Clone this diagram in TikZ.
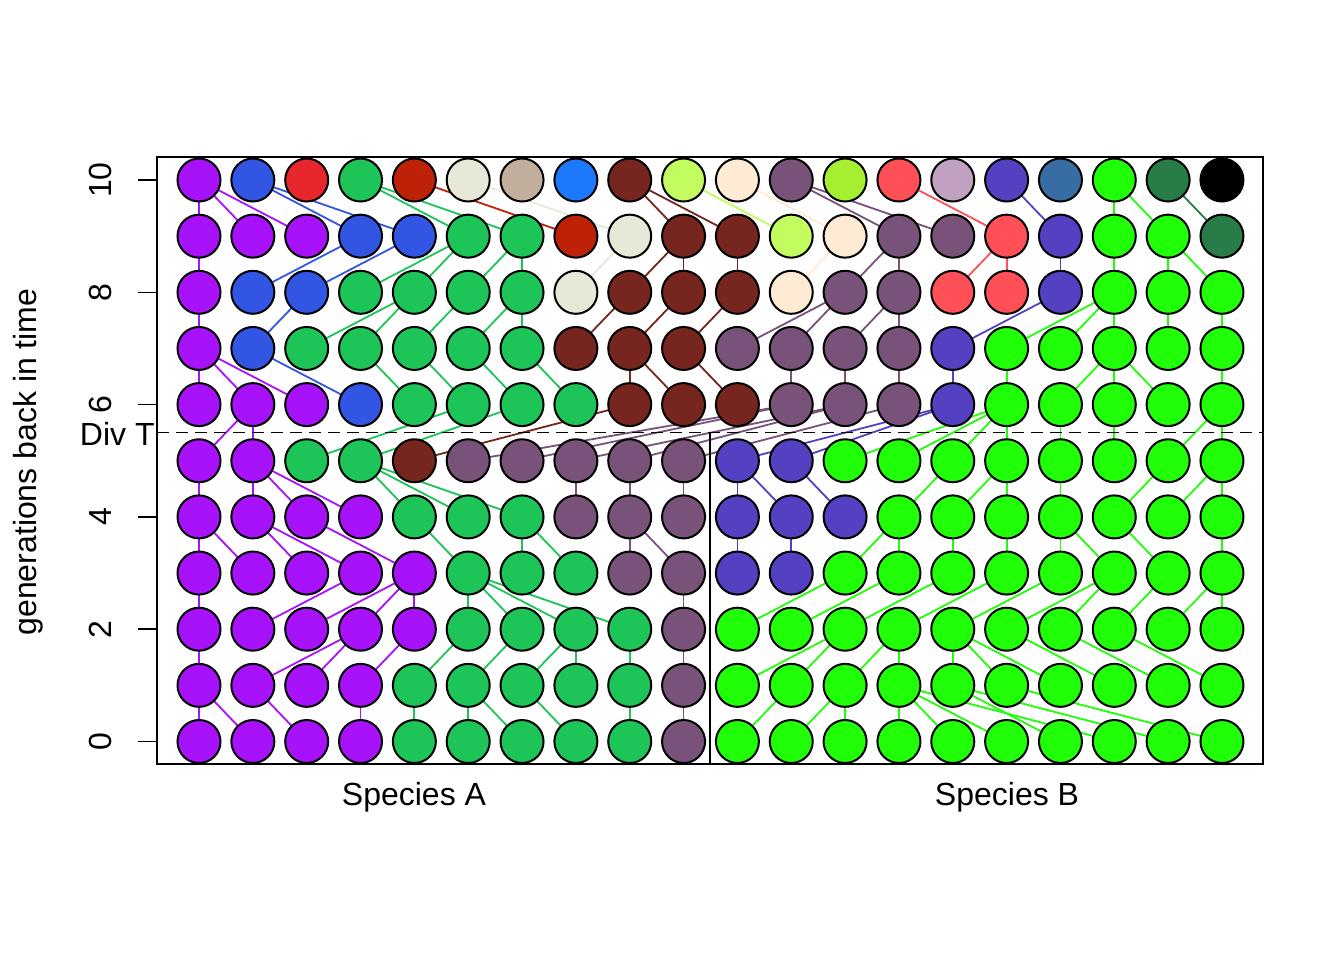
\documentclass[tikz,border=0pt]{standalone}
\usepackage{fontspec}
\setmainfont{Liberation Sans}
\pgfdeclarelayer{bg}
\pgfsetlayers{bg,main}
\definecolor{pal1}{HTML}{A712FB}
\definecolor{pal2}{HTML}{3355E3}
\definecolor{pal3}{HTML}{E8262E}
\definecolor{pal4}{HTML}{1DC457}
\definecolor{pal5}{HTML}{BE2206}
\definecolor{pal6}{HTML}{E8E8D8}
\definecolor{pal7}{HTML}{C2AE9C}
\definecolor{pal8}{HTML}{1C79FB}
\definecolor{pal9}{HTML}{76261E}
\definecolor{pal10}{HTML}{C3FC5E}
\definecolor{pal11}{HTML}{FFEAD4}
\definecolor{pal12}{HTML}{785278}
\definecolor{pal13}{HTML}{A6EE30}
\definecolor{pal14}{HTML}{FF5057}
\definecolor{pal15}{HTML}{C1A1C2}
\definecolor{pal16}{HTML}{5441C1}
\definecolor{pal17}{HTML}{386DA3}
\definecolor{pal18}{HTML}{20FF08}
\definecolor{pal19}{HTML}{277C48}
\definecolor{pal20}{HTML}{000000}
\begin{document}
\begin{tikzpicture}[x=0.5pt,y=-0.5pt,
  dot/.style={circle,draw=black,line width=1pt,minimum size=21.5pt,inner sep=0pt},
  lk/.style={line width=0.9pt},
  lab/.style={font=\fontsize{16}{19}\selectfont,inner sep=0pt},
  frame/.style={line width=0.8pt},
  divline/.style={line width=0.9pt,dash pattern=on 6pt off 3.5pt}]
\useasboundingbox (0,0) rectangle (1344,960);
% circles (individuals), colour = founding lineage
\foreach \g/\row in {
 10/{1,2,3,4,5,6,7,8,9,10,11,12,13,14,15,16,17,18,19,20},
 9/{1,1,1,2,2,4,4,5,6,9,9,10,11,12,12,14,16,18,18,19},
 8/{1,2,2,4,4,4,4,6,9,9,9,11,12,12,14,14,16,18,18,18},
 7/{1,2,4,4,4,4,4,9,9,9,12,12,12,12,16,18,18,18,18,18},
 6/{1,1,1,2,4,4,4,4,9,9,9,12,12,12,16,18,18,18,18,18},
 5/{1,1,4,4,9,12,12,12,12,12,16,16,18,18,18,18,18,18,18,18},
 4/{1,1,1,1,4,4,4,12,12,12,16,16,16,18,18,18,18,18,18,18},
 3/{1,1,1,1,1,4,4,4,12,12,16,16,18,18,18,18,18,18,18,18},
 2/{1,1,1,1,1,4,4,4,4,12,18,18,18,18,18,18,18,18,18,18},
 1/{1,1,1,1,4,4,4,4,4,12,18,18,18,18,18,18,18,18,18,18},
 0/{1,1,1,1,4,4,4,4,4,12,18,18,18,18,18,18,18,18,18,18}} {
  \foreach \c [count=\i] in \row {
    \expandafter\xdef\csname pc-\g-\i\endcsname{\c}
    \node[dot,fill=pal\c] (n-\g-\i) at ({199+(\i-1)*53.84},{741.5-\g*56.15}) {};
  }
}
% parent links (child in generation g -> parent in generation g+1)
\foreach \g/\row in {
 9/{1,1,1,2,2,4,4,5,6,9,9,10,11,12,12,14,16,18,18,19},
 8/{1,4,5,6,6,7,7,9,10,10,11,13,14,14,16,16,17,18,19,19},
 7/{1,3,5,5,6,7,7,9,10,11,13,13,14,14,17,18,18,18,19,20},
 6/{1,1,1,2,4,5,6,7,9,9,10,12,13,14,15,16,18,18,18,20},
 5/{2,2,6,7,9,12,12,13,13,14,15,15,16,16,16,16,17,18,20,20},
 4/{1,2,2,2,4,4,4,8,9,10,11,11,12,15,16,16,17,19,20,20},
 3/{1,1,2,2,3,5,7,7,9,9,11,12,14,14,15,16,17,17,18,20},
 2/{1,4,5,5,5,6,6,6,6,10,13,14,15,16,17,18,18,19,20,20},
 1/{1,4,4,5,6,7,8,8,9,10,13,13,14,14,15,15,15,16,17,18},
 0/{1,1,2,4,5,6,6,7,9,10,12,13,13,14,14,14,15,14,15,16}} {
  \pgfmathtruncatemacro{\gp}{\g+1}
  \foreach \p [count=\i] in \row {
    \edef\cc{\csname pc-\g-\i\endcsname}
    \begin{pgfonlayer}{bg}
      \draw[lk,draw=pal\cc] (n-\g-\i.center) -- (n-\gp-\p.center);
    \end{pgfonlayer}
  }
}
% frame, divergence line, species split
\draw[frame] (157,157) rectangle (1263,764);
\coordinate (dl) at (157,432.5);
\coordinate (dr) at (1263,432.5);
\draw[divline] (dl) -- (dr);
\coordinate (st) at (710,432.5);
\coordinate (sb) at (710,764);
\draw[frame] (st) -- (sb);
% y axis
\foreach \v in {0,2,4,6,8,10} {
  \coordinate (ta-\v) at (157,{741.5-\v*56.15});
  \coordinate (tb-\v) at (138,{741.5-\v*56.15});
  \draw[frame] (ta-\v) -- (tb-\v);
  \node[lab,rotate=90] (tl-\v) at (100,{741.5-\v*56.15}) {\v};
}
\node[lab,anchor=east] (divt) at (155,434) {Div T};
\node[lab,rotate=90] (ylab) at (28,462) {generations back in time};
\node[lab] (spa) at (414,797) {Species A};
\node[lab] (spb) at (1007,797) {Species B};
\end{tikzpicture}
\end{document}
